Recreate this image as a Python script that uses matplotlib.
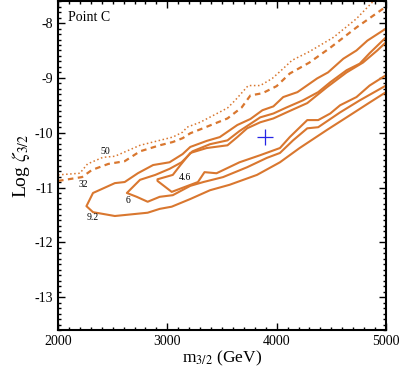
import numpy as np
import matplotlib
matplotlib.use("Agg")
import matplotlib.pyplot as plt
from matplotlib.ticker import MultipleLocator

plt.rcParams['font.family'] = ['Liberation Serif', 'DejaVu Serif']
plt.rcParams['mathtext.fontset'] = 'stix'
plt.rcParams['axes.unicode_minus'] = False

# contour 50 (dotted) and 32 (dashed)
m50 = [2000, 2200, 2270, 2410, 2520, 2750, 2930, 3050, 3140, 3180, 3300, 3550, 3620,
       3740, 3850, 3960, 4060, 4140, 4300, 4520, 4730, 4870, 4950]
z50 = [-10.77, -10.74, -10.57, -10.45, -10.43, -10.23, -10.14, -10.08, -9.99, -9.90, -9.81, -9.55, -9.41,
       -9.14, -9.14, -9.01, -8.83, -8.68, -8.52, -8.26, -7.92, -7.63, -7.50]
m32 = [2000, 2220, 2310, 2460, 2610, 2750, 2930, 3050, 3140, 3210, 3300, 3550, 3680,
       3760, 3870, 4000, 4120, 4300, 4490, 4730, 5000]
z32 = [-10.88, -10.81, -10.68, -10.57, -10.52, -10.34, -10.23, -10.17, -10.10, -10.01, -9.94, -9.74, -9.54,
       -9.32, -9.28, -9.15, -8.92, -8.72, -8.45, -8.08, -7.70]

# contour 9.2 (upper branch right->tip, then lower branch tip->right)
m92 = [5000, 4830, 4730, 4610, 4470, 4370, 4190, 4060, 3970, 3870, 3760, 3640, 3480, 3360, 3210,
       3140, 3020, 2870, 2730, 2610, 2520, 2320, 2260,
       2320, 2520, 2820, 2930, 3040, 3210, 3390, 3570, 3820, 4030, 4210, 4460, 4640, 4850, 5000]
z92 = [-8.10, -8.32, -8.50, -8.65, -8.90, -9.01, -9.26, -9.35, -9.52, -9.59, -9.75, -9.86, -10.08, -10.15, -10.26,
       -10.39, -10.54, -10.59, -10.74, -10.90, -10.92, -11.10, -11.34,
       -11.45, -11.52, -11.46, -11.39, -11.35, -11.21, -11.05, -10.95, -10.77, -10.54, -10.28, -9.95, -9.72, -9.45, -9.26]

# contour 6
m6 = [5000, 4850, 4760, 4640, 4490, 4380, 4240, 4090, 3970, 3850, 3660, 3550, 3390, 3230,
      3130, 3020, 2890, 2750, 2630,
      2720, 2820, 2930, 3050, 3210, 3330, 3510, 3730, 3910, 4030, 4150, 4280, 4380, 4580, 4760, 5000]
z6 = [-8.26, -8.55, -8.74, -8.86, -9.08, -9.26, -9.41, -9.54, -9.65, -9.72, -9.97, -10.14, -10.21, -10.34,
      -10.54, -10.66, -10.77, -10.86, -11.10,
      -11.17, -11.26, -11.17, -11.14, -10.97, -10.90, -10.81, -10.63, -10.46, -10.37, -10.14, -9.92, -9.90, -9.63, -9.41, -9.14]

# contour 4.6
m46 = [5000, 4920, 4790, 4640, 4460, 4280, 4090, 3970, 3850, 3730, 3640, 3550, 3360, 3210,
       3120, 3050, 2910,
       2910, 3040, 3280, 3340, 3450, 3660, 3850, 4030, 4120, 4280, 4380, 4490, 4580, 4730, 4850, 5000]
z46 = [-8.35, -8.50, -8.72, -8.90, -9.17, -9.46, -9.63, -9.74, -9.81, -9.92, -10.08, -10.23, -10.28, -10.37,
       -10.59, -10.77, -10.85,
       -10.88, -11.08, -10.90, -10.72, -10.74, -10.54, -10.41, -10.28, -10.08, -9.77, -9.77, -9.65, -9.50, -9.35, -9.14, -8.95]

best_m, best_z = 3890, -10.08

labels = ["50", "32", "4.6", "6", "9.2"]
label_m = [2430, 2230, 3160, 2640, 2320]
label_z = [-10.34, -10.94, -10.81, -11.23, -11.55]

col = '#d9772f'

fig = plt.figure(figsize=(4.04, 3.82), dpi=100)
ax = fig.add_axes([0.1436, 0.1361, 0.8118, 0.8609])

ax.plot(m50, z50, ':', color=col, lw=1.1)
ax.plot(m32, z32, '--', color=col, lw=1.6, dashes=(2.5, 2.0))
ax.plot(m92, z92, '-', color=col, lw=1.5)
ax.plot(m6, z6, '-', color=col, lw=1.5)
ax.plot(m46, z46, '-', color=col, lw=1.5)
ax.plot([best_m], [best_z], '+', color='#2525e6', ms=11, mew=0.9)

for t, xm, yz in zip(labels, label_m, label_z):
    ax.text(xm, yz, t, fontsize=7, ha='center', va='center')

ax.text(0.03, 0.951, "Point C", transform=ax.transAxes, fontsize=10, ha='left', va='center')

ax.set_xlim(2000, 5000)
ax.set_ylim(-13.6, -7.6)
ax.xaxis.set_major_locator(MultipleLocator(1000))
ax.xaxis.set_minor_locator(MultipleLocator(100))
ax.yaxis.set_major_locator(MultipleLocator(1))
ax.yaxis.set_minor_locator(MultipleLocator(0.1))
ax.tick_params(which='both', direction='in', top=True, right=True, labelsize=10, width=1.0)
ax.tick_params(which='major', length=5)
ax.tick_params(which='minor', length=2.5)
for s in ax.spines.values():
    s.set_linewidth(1.5)

ax.set_xlabel(r"m$_{3/2}$ (GeV)", fontsize=12.5, labelpad=1)
ax.set_ylabel(r"Log $\zeta_{3/2}$", fontsize=14, labelpad=2)

fig.savefig("out.png", dpi=100)
